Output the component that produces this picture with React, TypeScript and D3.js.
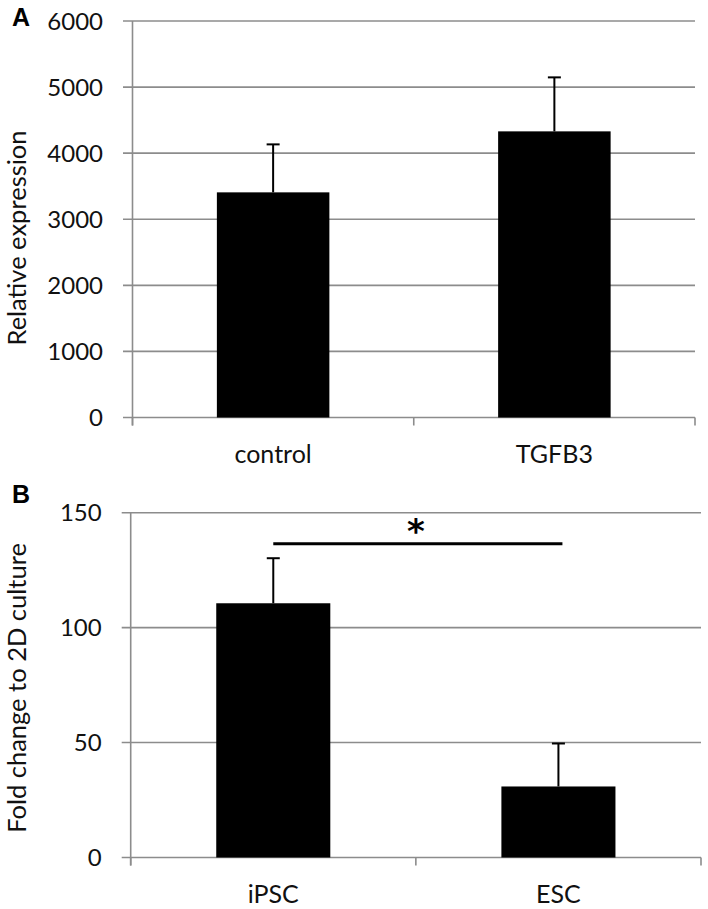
import React from "react";
import * as d3 from "d3";

const catsA = ["control", "TGFB3"];
const valsA = [3407, 4330];
const errA = [726, 817];
const ticksA = [0, 1000, 2000, 3000, 4000, 5000, 6000];

const catsB = ["iPSC", "ESC"];
const valsB = [110.6, 30.9];
const errB = [19.6, 18.7];
const ticksB = [0, 50, 100, 150];

const FONT = "Lato, 'Open Sans', sans-serif";
const GRID = "#8c8c8c";
const TXT = "#111";

type PanelProps = {
  cats: string[];
  vals: number[];
  errs: number[];
  ticks: number[];
  domainMax: number;
  x0: number;
  x1: number;
  y0: number;
  y1: number;
  tickLeft: number;
  labelRight: number;
  catBaseline: number;
  title: string;
  titleY: number;
  letter: string;
  letterY: number;
};

function Panel(p: PanelProps) {
  const x = d3.scaleBand<string>().domain(p.cats).range([p.x0, p.x1]).paddingInner(0.6).paddingOuter(0.3);
  const y = d3.scaleLinear().domain([0, p.domainMax]).range([p.y0, p.y1]);
  const step = x.step();
  const catTicks = [p.x0, ...p.cats.map((c) => (x(c) as number) - step * 0.3 + step)];
  return (
    <g>
      {p.ticks.map((t) => (
        <g key={t}>
          <line x1={p.tickLeft} x2={p.x1} y1={y(t)} y2={y(t)} stroke={GRID} strokeWidth={1.6} />
          <text x={p.labelRight} y={y(t)} dy="0.36em" textAnchor="end" fontFamily={FONT} fontSize={24} fill={TXT}>
            {t}
          </text>
        </g>
      ))}
      <line x1={p.x0} x2={p.x0} y1={y(p.domainMax)} y2={p.y0 + 8} stroke={GRID} strokeWidth={1.6} />
      {catTicks.map((cx, i) => (
        <line key={i} x1={cx} x2={cx} y1={p.y0} y2={p.y0 + 8} stroke={GRID} strokeWidth={1.6} />
      ))}
      {p.cats.map((c, i) => {
        const bx = x(c) as number;
        const bw = x.bandwidth();
        const cx = bx + bw / 2;
        const top = y(p.vals[i]);
        const et = y(p.vals[i] + p.errs[i]);
        return (
          <g key={c}>
            <rect x={bx} y={top} width={bw} height={p.y0 - top} fill="#000" />
            <line x1={cx} x2={cx} y1={top} y2={et} stroke="#000" strokeWidth={2} />
            <line x1={cx - 6.5} x2={cx + 6.5} y1={et} y2={et} stroke="#000" strokeWidth={2} />
            <text x={cx} y={p.catBaseline} textAnchor="middle" fontFamily={FONT} fontSize={25} fill={TXT}>
              {c}
            </text>
          </g>
        );
      })}
      <text
        transform={`translate(26,${p.titleY}) rotate(-90)`}
        textAnchor="middle"
        fontFamily={FONT}
        fontSize={25.5}
        fill={TXT}
      >
        {p.title}
      </text>
      <text x={12} y={p.letterY} fontFamily="'Liberation Sans', Arial, sans-serif" fontWeight="bold" fontSize={25} fill="#000">
        {p.letter}
      </text>
    </g>
  );
}

export default function App() {
  const xB = d3.scaleBand<string>().domain(catsB).range([130.7, 701]).paddingInner(0.6).paddingOuter(0.3);
  const yB = d3.scaleLinear().domain([0, 150]).range([857.5, 512.7]);
  const s1 = (xB("iPSC") as number) + xB.bandwidth() / 2;
  const s2 = (xB("ESC") as number) + xB.bandwidth() / 2;
  const sigY = yB(136.5);
  return (
    <svg
      width={708}
      height={909}
      style={{ position: "absolute", left: 0, top: 0, background: "#fff" }}
    >
      <rect width={708} height={909} fill="#fff" />
      <Panel
        cats={catsA}
        vals={valsA}
        errs={errA}
        ticks={ticksA}
        domainMax={6000}
        x0={132.5}
        x1={695}
        y0={417.5}
        y1={21}
        tickLeft={123}
        labelRight={103}
        catBaseline={463}
        title="Relative expression"
        titleY={238}
        letter="A"
        letterY={26}
      />
      <Panel
        cats={catsB}
        vals={valsB}
        errs={errB}
        ticks={ticksB}
        domainMax={150}
        x0={130.7}
        x1={701}
        y0={857.5}
        y1={512.7}
        tickLeft={121.7}
        labelRight={101.7}
        catBaseline={903}
        title="Fold change to 2D culture"
        titleY={688}
        letter="B"
        letterY={503}
      />
      <line x1={s1} x2={s2 + 4} y1={sigY} y2={sigY} stroke="#000" strokeWidth={3} />
      <text
        x={(s1 + s2) / 2}
        y={sigY - 0.5}
        textAnchor="middle"
        fontFamily="'DejaVu Sans', sans-serif"
        fontWeight="bold"
        fontSize={34}
        fill="#000"
      >
        *
      </text>
    </svg>
  );
}
